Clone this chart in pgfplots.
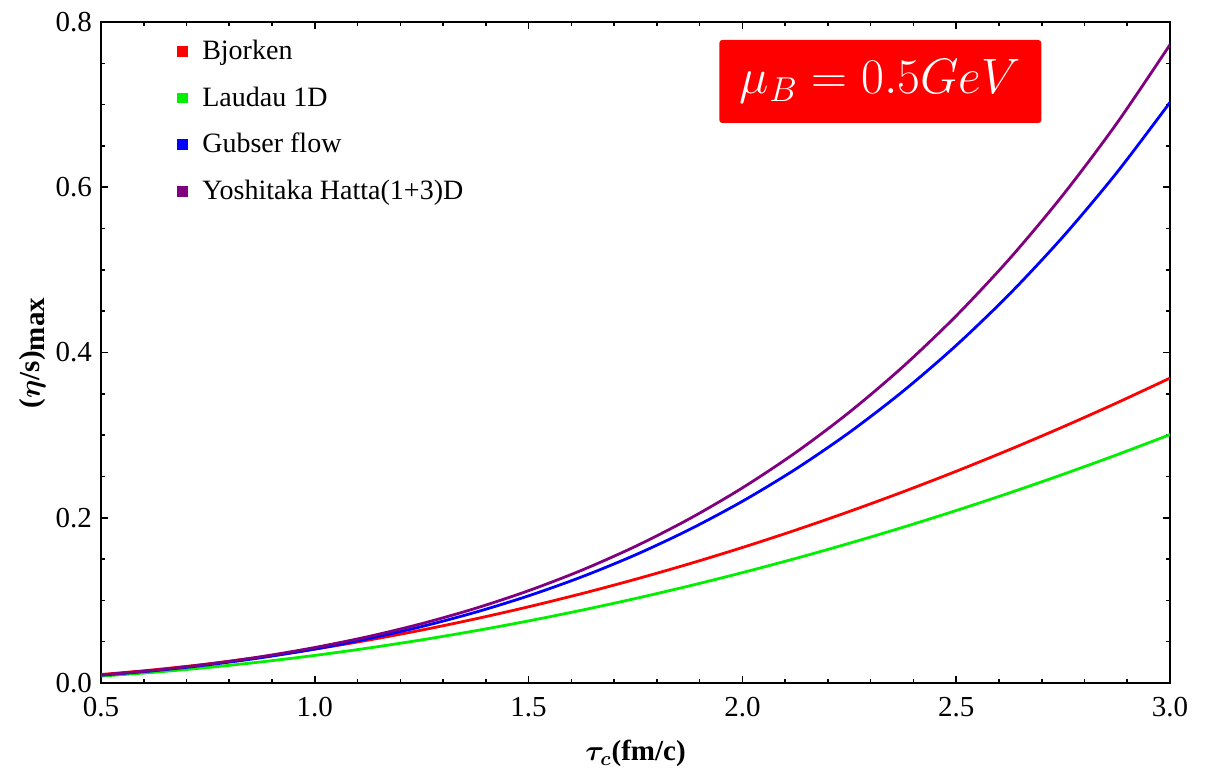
\documentclass[border=0pt]{standalone}
\usepackage{pgfplots}
\pgfplotsset{compat=1.18}
\usepackage{bm}
\usepackage{fontspec}
\setmainfont{Liberation Serif}
\definecolor{cred}{RGB}{255,0,0}
\definecolor{cgreen}{RGB}{0,240,0}
\definecolor{cblue}{RGB}{0,0,255}
\definecolor{cpurple}{RGB}{128,0,128}
\pgfplotstableread{
x red green blue purple
0.5 0.01025 0.00835 0.00941 0.00974
0.625 0.01602 0.01305 0.01496 0.01551
0.75 0.02306 0.01879 0.02199 0.02285
0.875 0.03139 0.02557 0.03065 0.03193
1.0 0.0410 0.0334 0.04112 0.04296
1.125 0.05189 0.04227 0.05360 0.05617
1.25 0.06406 0.05219 0.06831 0.07184
1.375 0.07752 0.06315 0.08552 0.09025
1.5 0.09225 0.07515 0.10551 0.11174
1.625 0.10827 0.08820 0.12860 0.13666
1.75 0.12556 0.10229 0.15511 0.16542
1.875 0.14414 0.11742 0.18542 0.19844
2.0 0.164 0.1336 0.21992 0.23616
2.125 0.18514 0.15082 0.25903 0.27908
2.25 0.20756 0.16909 0.30319 0.32772
2.375 0.23127 0.18840 0.35288 0.38263
2.5 0.25625 0.20875 0.40859 0.44438
2.625 0.28252 0.23015 0.47087 0.51359
2.75 0.31006 0.25259 0.54026 0.59090
2.875 0.33889 0.27607 0.61734 0.67699
3.0 0.369 0.3006 0.70272 0.77256
}\datatable
\begin{document}
\begin{tikzpicture}
\useasboundingbox (-50.5pt,-43.5pt) rectangle (556pt,341.5pt);
\begin{axis}[
  scale only axis,
  width=534.5pt, height=330.5pt,
  xmin=0.5, xmax=3.0, ymin=0, ymax=0.8,
  axis line style={line width=1pt},
  xtick={0.5,1.0,1.5,2.0,2.5,3.0},
  ytick={0,0.2,0.4,0.6,0.8},
  minor x tick num=4, minor y tick num=3,
  tick style={black, line width=0.8pt},
  major tick length=3.5pt, minor tick length=2pt,
  tick align=inside,
  /pgf/number format/fixed,
  /pgf/number format/fixed zerofill,
  /pgf/number format/precision=1,
  /pgf/number format/assume math mode=true,
  tick label style={font=\fontsize{14.5}{16}\selectfont},
  xticklabel style={yshift=-3.5pt},
  yticklabel style={xshift=-1pt},
  xlabel={\textbf{$\bm{\tau_c}$(fm/c)}},
  ylabel={\textbf{($\bm{\eta}$/s)$_{\textbf{max}}$}},
  label style={font=\fontsize{14.5}{16}\selectfont},
  xlabel style={yshift=-5pt},
  ylabel style={yshift=-2pt},
  legend style={draw=none, fill=none, at={(0.065,0.985)}, anchor=north west,
    font=\fontsize{14}{16}\selectfont, row sep=8pt,
    legend cell align=left},
  legend image code/.code={\fill (0pt,-2pt) rectangle (4pt,2pt); \path[draw=none,fill=none] (0pt,0pt) -- (10pt,0pt);},
  every axis plot/.append style={line width=1.4pt, no markers, smooth},
]
\addplot[color=cred] table[x=x,y=red]{\datatable};
\addlegendentry{Bjorken}
\addplot[color=cgreen] table[x=x,y=green]{\datatable};
\addlegendentry{Laudau 1D}
\addplot[color=cblue] table[x=x,y=blue]{\datatable};
\addlegendentry{Gubser flow}
\addplot[color=cpurple] table[x=x,y=purple]{\datatable};
\addlegendentry{Yoshitaka Hatta(1+3)D}
\node[fill=cred, text=white, rounded corners=1.5pt, minimum width=161pt, minimum height=41.5pt, inner sep=0pt, font=\fontsize{24}{28}\selectfont] at (axis cs:2.3225,0.728) {$\mu_B = 0.5GeV$};
\end{axis}
\end{tikzpicture}
\end{document}
